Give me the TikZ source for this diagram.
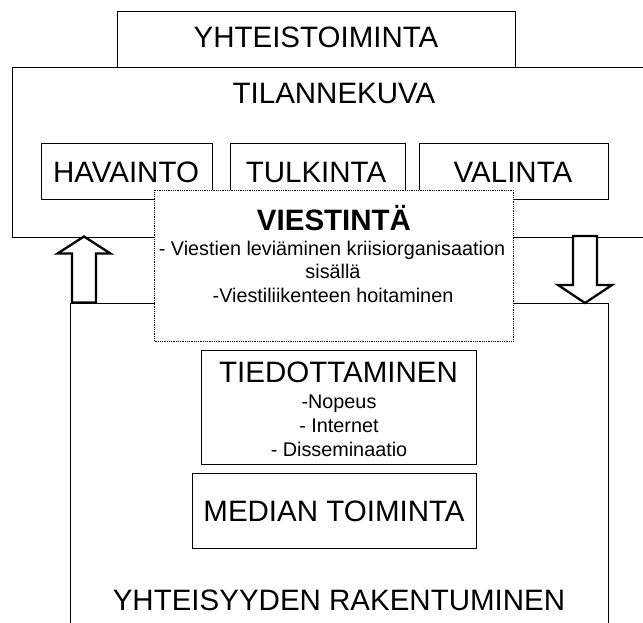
\documentclass[tikz,border=0pt]{standalone}
\usepackage{fontspec}
\setmainfont{Liberation Sans}
\begin{document}
\begin{tikzpicture}[x=1pt,y=-1pt,
  panel/.style={draw=black,line width=1pt,fill=white,inner sep=0pt},
  dotpanel/.style={draw=black,line width=0.8pt,dash pattern=on 0.9pt off 0.9pt,fill=white,inner sep=0pt},
  bigtxt/.style={inner sep=0pt,anchor=base,font=\fontsize{29.5}{32}\selectfont},
  boldtxt/.style={inner sep=0pt,anchor=base,font=\fontsize{29.5}{32}\selectfont\bfseries},
  smalltxt/.style={inner sep=0pt,anchor=base,font=\fontsize{19.8}{22}\selectfont},
  blockarrow/.style={draw=black,line width=2.3pt,fill=white,line join=miter}]
\useasboundingbox (0,0) rectangle (643,622);
\clip (0,0) rectangle (643,622);

% outer frames
\node[panel,minimum width=748pt,minimum height=170pt] (tila) at (386,152) {};
\node[panel,minimum width=398pt,minimum height=56pt] (yht) at (316,39) {};
\node[panel,minimum width=538pt,minimum height=397pt] (low) at (339,501.5) {};

% three phases
\node[panel,minimum width=171pt,minimum height=56pt] (hav) at (126.5,171) {};
\node[panel,minimum width=175pt,minimum height=56pt] (tul) at (317.5,171) {};
\node[panel,minimum width=189pt,minimum height=56pt] (val) at (513.5,171) {};

\node[bigtxt] (yhtT) at (316,47) {YHTEISTOIMINTA};
\node[bigtxt] (tilaT) at (334,103) {TILANNEKUVA};
\node[bigtxt] (havT) at (126,182) {HAVAINTO};
\node[bigtxt] (tulT) at (316,182) {TULKINTA};
\node[bigtxt] (valT) at (513,182) {VALINTA};

% block arrows between the frames
\coordinate (uptip) at (84,236.5);
\coordinate (downtip) at (585,303);
\draw[blockarrow] (uptip) -- ++(26.5,17) -- ++(-14.5,0) -- ++(0,49) -- ++(-24,0)
  -- ++(0,-49) -- ++(-14.5,0) -- cycle;
\draw[blockarrow] (downtip) -- ++(27,-18) -- ++(-15,0) -- ++(0,-49) -- ++(-24,0)
  -- ++(0,49) -- ++(-15,0) -- cycle;

% communication box
\node[dotpanel,minimum width=359pt,minimum height=151pt] (vie) at (334,265.5) {};
\node[boldtxt] (vieT) at (334,230) {VIESTINTÄ};
\node[smalltxt] (vie1) at (332,255) {- Viestien leviäminen kriisiorganisaation};
\node[smalltxt] (vie2) at (333,278.5) {sisällä};
\node[smalltxt] (vie3) at (333,302) {-Viestiliikenteen hoitaminen};

% informing
\node[panel,minimum width=275pt,minimum height=114pt] (tie) at (338.5,407) {};
\node[bigtxt] (tieT) at (338.5,382) {TIEDOTTAMINEN};
\node[smalltxt] (tie1) at (339,408) {-Nopeus};
\node[smalltxt] (tie2) at (339,432.5) {- Internet};
\node[smalltxt] (tie3) at (339,456.5) {- Disseminaatio};

% media
\node[panel,minimum width=284pt,minimum height=75pt] (med) at (334,510.5) {};
\node[bigtxt] (medT) at (334,521.5) {MEDIAN TOIMINTA};

\node[bigtxt] (lowT) at (339,610) {YHTEISYYDEN RAKENTUMINEN};
\end{tikzpicture}
\end{document}
